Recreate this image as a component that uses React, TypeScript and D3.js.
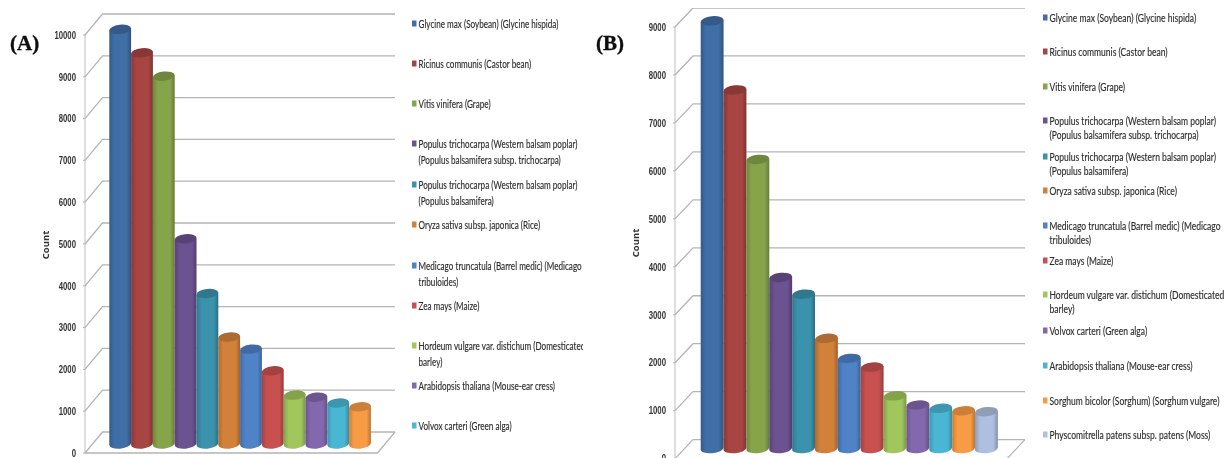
import React from "react";
import * as d3 from "d3";

const colorsAll = ["#3f6ea6","#a64442","#86a44a","#6b5290","#3a92ac","#d2813a","#4f82c6","#c85150","#a0c65c","#8468ae","#4ab6d3","#f79b44","#aebfdf"];

const valuesA = [9920,9360,8800,4910,3600,2560,2270,1750,1170,1120,980,890];
const ticksA = [0,1000,2000,3000,4000,5000,6000,7000,8000,9000,10000];
const legendA: string[][] = [
  ["Glycine max (Soybean) (Glycine hispida)"],
  ["Ricinus communis (Castor bean)"],
  ["Vitis vinifera (Grape)"],
  ["Populus trichocarpa (Western balsam poplar)","(Populus balsamifera subsp. trichocarpa)"],
  ["Populus trichocarpa (Western balsam poplar)","(Populus balsamifera)"],
  ["Oryza sativa subsp. japonica (Rice)"],
  ["Medicago truncatula (Barrel medic) (Medicago","tribuloides)"],
  ["Zea mays (Maize)"],
  ["Hordeum vulgare var. distichum (Domesticated","barley)"],
  ["Arabidopsis thaliana (Mouse-ear cress)"],
  ["Volvox carteri (Green alga)"],
];
const legendYA = [24,64,104,144,185,225,266,306,346,386,426];

const valuesB = [8920,7480,6030,3570,3220,2300,1880,1700,1100,910,840,790,770];
const ticksB = [0,1000,2000,3000,4000,5000,6000,7000,8000,9000];
const legendB: string[][] = [
  ["Glycine max (Soybean) (Glycine hispida)"],
  ["Ricinus communis (Castor bean)"],
  ["Vitis vinifera (Grape)"],
  ["Populus trichocarpa (Western balsam poplar)","(Populus balsamifera subsp. trichocarpa)"],
  ["Populus trichocarpa (Western balsam poplar)","(Populus balsamifera)"],
  ["Oryza sativa subsp. japonica (Rice)"],
  ["Medicago truncatula (Barrel medic) (Medicago","tribuloides)"],
  ["Zea mays (Maize)"],
  ["Hordeum vulgare var. distichum (Domesticated","barley)"],
  ["Volvox carteri (Green alga)"],
  ["Arabidopsis thaliana (Mouse-ear cress)"],
  ["Sorghum bicolor (Sorghum) (Sorghum vulgare)"],
  ["Physcomitrella patens subsp. patens (Moss)"],
];
const legendYB = [18,52,87,121,157,191,226,261,295,331,366,401,435];

type P = {
  id: string; label: string; labelX: number; values: number[]; ticks: number[];
  legend: string[][]; legendY: number[]; axisX: number; dx: number; dy: number; y0: number; yTop: number; maxV: number;
  barX0: number; barStep: number; right: number; countX: number; countY: number;
  legX: number; legScale: number; legLine: number; legClip: number; baseDy: number;
};

function Panel(p: P) {
  const y = d3.scaleLinear().domain([0, p.maxV]).range([p.y0, p.yTop]);
  const x = d3.scaleBand<number>().domain(p.values.map((_, i) => i)).range([p.barX0, p.barX0 + p.barStep * p.values.length]).padding(0);
  const rx = x.bandwidth() / 2;
  const ry = 4.6;
  const frontRight = p.right - p.dx;
  return (
    <g>
      <defs>
        {p.values.map((_, i) => {
          const c = d3.color(colorsAll[i])!;
          return (
            <linearGradient key={i} id={`${p.id}g${i}`} x1="0" x2="1" y1="0" y2="0">
              <stop offset="0" stopColor={c.darker(0.55).formatHex()} />
              <stop offset="0.22" stopColor={c.formatHex()} />
              <stop offset="0.8" stopColor={c.formatHex()} />
              <stop offset="1" stopColor={c.darker(0.8).formatHex()} />
            </linearGradient>
          );
        })}
        <clipPath id={`${p.id}clip`}><rect x={p.legX - 8} y={0} width={p.legClip} height={458} /></clipPath>
      </defs>
      <text x={p.labelX} y={50} fontFamily="'Liberation Serif'" fontWeight="bold" fontSize={21} stroke="#111" strokeWidth={0.35} fill="#111">{p.label}</text>
      <line x1={p.axisX} x2={p.axisX} y1={y(p.maxV)} y2={y(0)} stroke="#c4c4c4" strokeWidth={1.1} />
      {p.ticks.map((t) => (
        <g key={t}>
          <polyline fill="none" stroke="#b4b4b4" strokeWidth={1.3}
            points={`${p.axisX},${y(t)} ${p.axisX + p.dx},${y(t) + p.dy} ${p.right},${y(t) + p.dy}`} />
          <line x1={p.axisX - 2} x2={p.axisX} y1={y(t)} y2={y(t)} stroke="#b4b4b4" />
          <text transform={`translate(${p.axisX - 9},${y(t) + 3.8}) scale(0.74,1)`} textAnchor="end" fontFamily="'Liberation Sans'" fontWeight="bold" fontSize={10.5} fill="#333">{t}</text>
        </g>
      ))}
      <polyline fill="none" stroke="#b4b4b4" strokeWidth={1.3}
        points={`${p.axisX},${y(0)} ${frontRight},${y(0)} ${p.right},${y(0) + p.dy}`} />
      <text transform={`translate(${p.countX},${p.countY}) rotate(-90)`} textAnchor="middle" fontFamily="'Open Sans'" fontWeight="bold" fontSize={9.5} fill="#333">Count</text>
      {p.values.map((v, i) => {
        const x0 = x(i)!;
        const x1 = x0 + x.bandwidth();
        const yB = y(0) + p.baseDy;
        const yT = y(v) + p.baseDy;
        const c = d3.color(colorsAll[i])!;
        return (
          <g key={i}>
            <path d={`M${x0},${yT + 1} L${x0},${yB + 1} A${rx},${ry} -6 0 0 ${x1},${yB - 1} L${x1},${yT - 1} Z`} fill={`url(#${p.id}g${i})`} />
            <ellipse cx={(x0 + x1) / 2} cy={yT} rx={rx} ry={ry} transform={`rotate(-6 ${(x0 + x1) / 2} ${yT})`} fill={c.darker(0.55).formatHex()} />
          </g>
        );
      })}
      <g clipPath={`url(#${p.id}clip)`}>
        {p.legend.map((lines, i) => (
          <g key={i}>
            <rect x={p.legX - 6.5} y={p.legendY[i] - 3.5} width={4.5} height={6} fill={colorsAll[i]} />
            {lines.map((l, j) => (
              <text key={j} transform={`translate(${p.legX},${p.legendY[i] + 3.5 + j * p.legLine}) scale(${p.legScale},1)`}
                fontFamily="Lato" fontSize={11} stroke="#333" strokeWidth={0.15} fill="#2a2a2a">{l}</text>
            ))}
          </g>
        ))}
      </g>
    </g>
  );
}

export default function App() {
  return (
    <svg width={1224} height={458} viewBox="0 0 1224 458" style={{ position: "absolute", left: 0, top: 0, display: "block", background: "#fff" }}>
      <defs>
        <filter id="soft" x="0" y="0" width="100%" height="100%"><feGaussianBlur stdDeviation="0.45" /></filter>
      </defs>
      <g filter="url(#soft)">
        <Panel id="a" label="(A)" labelX={10} values={valuesA} ticks={ticksA} legend={legendA} legendY={legendYA}
          axisX={85} dx={17.5} dy={-21} y0={453} yTop={35} maxV={10000} barX0={109.3} barStep={21.8} right={395}
          countX={48.5} countY={245} legX={418.5} legScale={0.74} legLine={16} legClip={172} baseDy={-9} />
        <Panel id="b" label="(B)" labelX={596} values={valuesB} ticks={ticksB} legend={legendB} legendY={legendYB}
          axisX={675} dx={18} dy={-19} y0={458.6} yTop={27} maxV={9000} barX0={700.7} barStep={22.86} right={1025}
          countX={638.5} countY={243} legX={1049.5} legScale={0.775} legLine={14.5} legClip={190} baseDy={-10} />
      </g>
    </svg>
  );
}
